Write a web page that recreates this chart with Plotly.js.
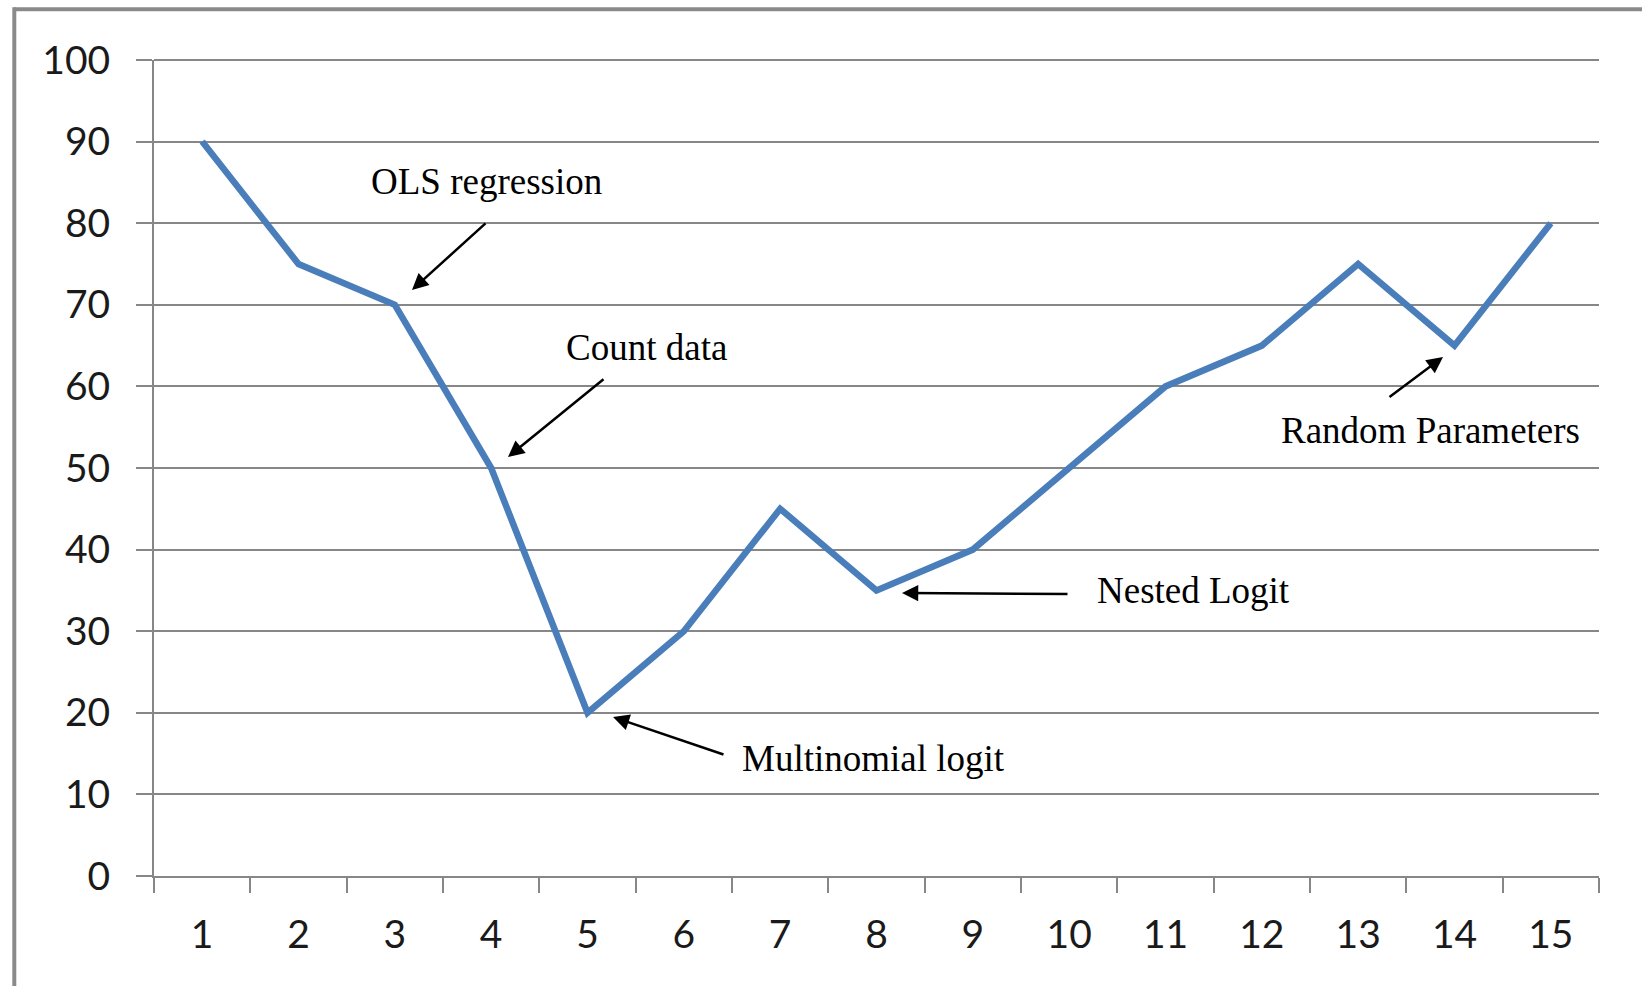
<!DOCTYPE html>
<html>
<head>
<meta charset="utf-8">
<script src="https://cdn.plot.ly/plotly-3.0.1.min.js"></script>
<style>
html,body{margin:0;padding:0;background:#fff;}
#chart{width:1642px;height:986px;}
</style>
</head>
<body>
<div id="chart"></div>
<script>
// Data
const categories = ["1","2","3","4","5","6","7","8","9","10","11","12","13","14","15"];
const values = [90, 75, 70, 50, 20, 30, 45, 35, 40, 50, 60, 65, 75, 65, 80];
const yTicks = [0, 10, 20, 30, 40, 50, 60, 70, 80, 90, 100];
const yMax = 100;

// Annotation labels
const labelTexts = ["OLS regression", "Count data", "Multinomial logit", "Nested Logit", "Random Parameters"];

// Layout geometry (pixels)
const W = 1642, H = 986;
const M = {l: 154, r: 43, t: 60, b: 110};
const PW = W - M.l - M.r, PH = H - M.t - M.b;
function px(x) { return (x - M.l) / PW; }
function py(y) { return (H - M.b - y) / PH; }

// label centers and arrows (head, tail) in pixels
const labelPos = [[486, 181], [646, 347], [873, 758], [1193, 590], [1430, 430]];
const arrows = [
  {head: [412, 290], tail: [487, 222]},
  {head: [508, 457], tail: [605, 378]},
  {head: [613, 717], tail: [725, 755]},
  {head: [902, 593], tail: [1069, 594]},
  {head: [1443, 357], tail: [1388, 398]}
];

const annotations = [];
labelTexts.forEach((t, i) => {
  annotations.push({
    xref: 'paper', yref: 'paper',
    x: px(labelPos[i][0]), y: py(labelPos[i][1]),
    xanchor: 'center', yanchor: 'middle',
    text: t, showarrow: false,
    font: {family: 'Liberation Serif, Times New Roman, serif', size: 37, color: '#000'}
  });
});
arrows.forEach(a => {
  annotations.push({
    xref: 'paper', yref: 'paper',
    x: px(a.head[0]), y: py(a.head[1]),
    ax: a.tail[0] - a.head[0], ay: a.tail[1] - a.head[1],
    axref: 'pixel', ayref: 'pixel',
    text: '', showarrow: true,
    arrowhead: 2, arrowsize: 1.3, arrowwidth: 2.5, arrowcolor: '#000',
    standoff: 0, startstandoff: 0
  });
});

const gridColor = '#878787';
const tickFont = {family: 'Lato, Carlito, Calibri, sans-serif', size: 39, color: '#1a1a1a'};

const trace = {
  x: categories, y: values, type: 'scatter', mode: 'lines',
  line: {color: '#4a7ebb', width: 6.5},
  hoverinfo: 'skip'
};

const layout = {
  width: W, height: H,
  margin: M,
  paper_bgcolor: '#fff', plot_bgcolor: '#fff',
  showlegend: false,
  xaxis: {
    type: 'category',
    range: [-0.5, categories.length - 0.5],
    tickson: 'boundaries',
    showgrid: false, zeroline: false,
    showline: true, linecolor: gridColor, linewidth: 2,
    ticks: 'outside', ticklen: 15, tickwidth: 2, tickcolor: gridColor,
    tickfont: tickFont, ticklabelstandoff: 23,
    fixedrange: true
  },
  yaxis: {
    range: [0, yMax],
    tickvals: yTicks,
    ticktext: yTicks.map(String),
    showgrid: true, gridcolor: gridColor, gridwidth: 2,
    zeroline: false,
    showline: true, linecolor: gridColor, linewidth: 2,
    ticks: 'outside', ticklen: 16, tickwidth: 2, tickcolor: gridColor,
    tickfont: tickFont, ticklabelstandoff: 18,
    fixedrange: true
  },
  annotations: annotations,
  shapes: [
    // top gridline at the axis maximum (Plotly omits the gridline on the plot edge)
    {type: 'line', xref: 'paper', yref: 'paper', x0: 0, x1: 1, y0: 1, y1: 1, layer: 'below',
     line: {color: gridColor, width: 2}},
    {type: 'line', xref: 'paper', yref: 'paper', x0: px(14.3), x1: px(1660), y0: py(9.3), y1: py(9.3),
     line: {color: '#8a8a8a', width: 4}},
    {type: 'line', xref: 'paper', yref: 'paper', x0: px(14.3), x1: px(14.3), y0: py(7.3), y1: py(1000),
     line: {color: '#8a8a8a', width: 4}}
  ]
};

Plotly.newPlot('chart', [trace], layout, {displayModeBar: false, staticPlot: true});
</script>
</body>
</html>
